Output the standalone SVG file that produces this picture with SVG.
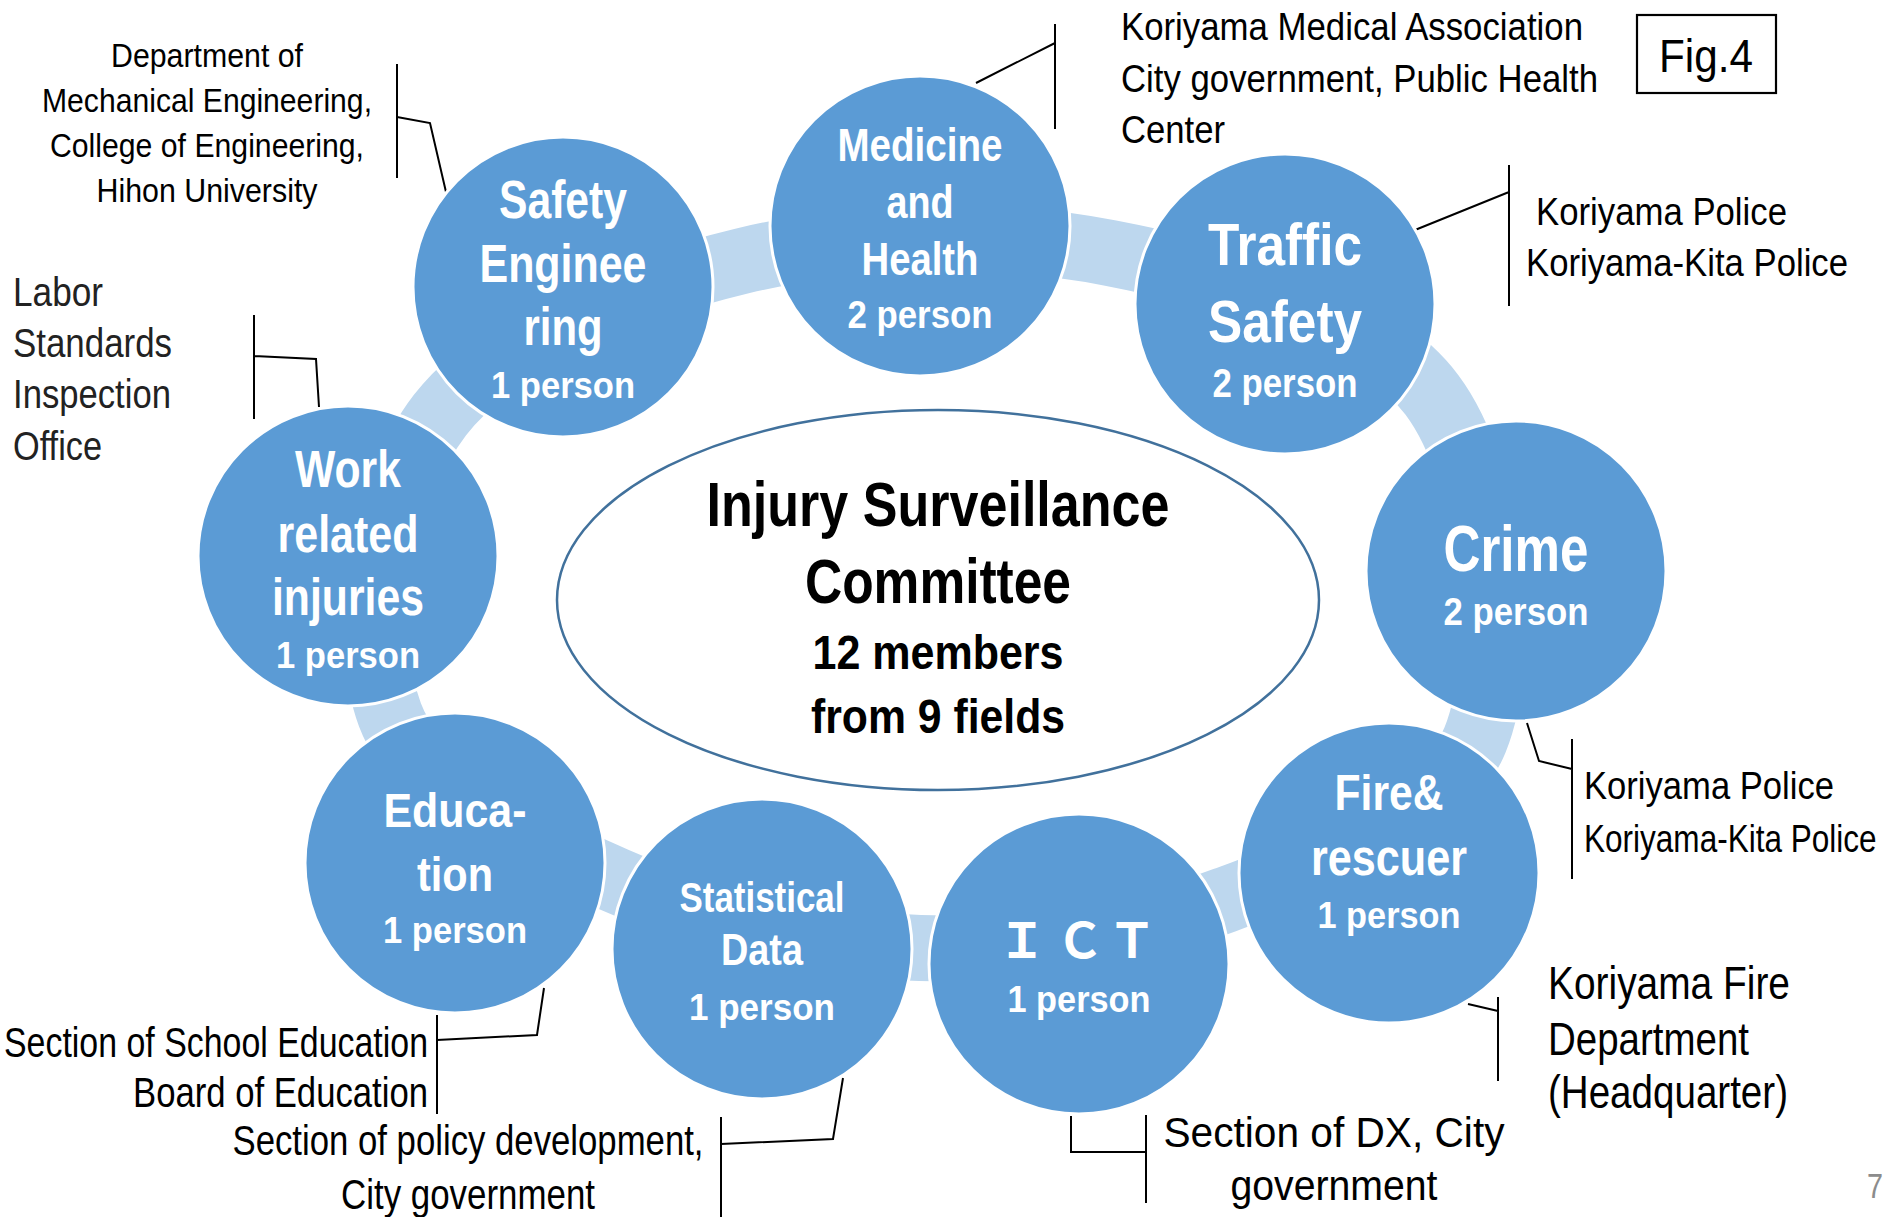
<svg xmlns="http://www.w3.org/2000/svg" width="1893" height="1217" viewBox="0 0 1893 1217">
<style>
.node circle{fill:#5B9BD5;stroke:#fff;stroke-width:3}
.ct{font-family:"Liberation Sans",Arial,sans-serif;font-weight:bold;fill:#fff;text-anchor:middle}
.cj{font-family:"Noto Sans CJK JP","Liberation Sans",sans-serif;font-weight:bold;fill:#fff;text-anchor:middle}
.cc{font-family:"Liberation Sans",Arial,sans-serif;font-weight:bold;fill:#000;text-anchor:middle}
.lbl{font-family:"Liberation Sans",Arial,sans-serif;fill:#000}
.dk{fill:#222}
.gr{fill:#8c8c8c}
.mid{text-anchor:middle}
.end{text-anchor:end}
.br{fill:none;stroke:#000;stroke-width:2}
.ring{fill:none;stroke:#BDD7EE;stroke-width:66}
</style>
<rect width="1893" height="1217" fill="#fff"/>
<g id="ring">
<path class="ring" d="M742 261 C853.7 234 995 230.7 1110 253 C1225 275.3 1371.2 313.8 1432 395 C1492.8 476.2 1509.5 655.8 1475 740 C1440.5 824.2 1317.5 865.3 1225 900 C1132.5 934.7 1021.7 951.3 920 948 C818.3 944.7 703.3 918.8 615 880 C526.7 841.2 419.2 792.5 390 715 C360.8 637.5 381.3 490.7 440 415 C498.7 339.3 630.3 288 742 261 Z"/>
</g>
<g id="committee">
<ellipse cx="938" cy="600" rx="381" ry="190" fill="#fff" stroke="#41719C" stroke-width="2.5"/>
<text class="cc" x="938" y="526" font-size="63" textLength="463" lengthAdjust="spacingAndGlyphs">Injury Surveillance</text>
<text class="cc" x="938" y="603" font-size="63" textLength="266" lengthAdjust="spacingAndGlyphs">Committee</text>
<text class="cc" x="938" y="669" font-size="49" textLength="251" lengthAdjust="spacingAndGlyphs">12 members</text>
<text class="cc" x="938" y="733" font-size="49" textLength="254" lengthAdjust="spacingAndGlyphs">from 9 fields</text>
</g>
<g id="connectors">
<path class="br" d="M397 64 V178 M397 117 L430 123 L446 192"/>
<path class="br" d="M254 315 V419 M254 356 L316 359 L319 407"/>
<path class="br" d="M1055 24 V129 M1055 43 L976 83"/>
<path class="br" d="M1509 165 V306 M1509 192 L1415 230"/>
<path class="br" d="M1572 739 V879 M1527 723 L1539 761 L1572 769"/>
<path class="br" d="M1498 997 V1081 M1468 1004 L1498 1011"/>
<path class="br" d="M1146 1115 V1203 M1071 1116 V1152 H1146"/>
<path class="br" d="M721 1117 V1217 M721 1144 L833 1139 L843 1078"/>
<path class="br" d="M437 1015 V1114 M437 1040 L537 1035 L544 988"/>
</g>
<g id="node-safety" class="node">
<circle cx="563" cy="287" r="150"/>
<text class="ct" x="563" y="218" font-size="53" textLength="128" lengthAdjust="spacingAndGlyphs">Safety</text>
<text class="ct" x="563" y="282" font-size="53" textLength="167" lengthAdjust="spacingAndGlyphs">Enginee</text>
<text class="ct" x="563" y="345" font-size="53" textLength="79" lengthAdjust="spacingAndGlyphs">ring</text>
<text class="ct" x="563" y="398" font-size="36" textLength="144" lengthAdjust="spacingAndGlyphs">1 person</text>
</g>
<g id="node-medicine" class="node">
<circle cx="920" cy="226" r="150"/>
<text class="ct" x="920" y="161" font-size="46" textLength="165" lengthAdjust="spacingAndGlyphs">Medicine</text>
<text class="ct" x="920" y="218" font-size="46" textLength="67" lengthAdjust="spacingAndGlyphs">and</text>
<text class="ct" x="920" y="275" font-size="46" textLength="117" lengthAdjust="spacingAndGlyphs">Health</text>
<text class="ct" x="920" y="328" font-size="39" textLength="145" lengthAdjust="spacingAndGlyphs">2 person</text>
</g>
<g id="node-traffic" class="node">
<circle cx="1285" cy="304" r="150"/>
<text class="ct" x="1285" y="265" font-size="60" textLength="154" lengthAdjust="spacingAndGlyphs">Traffic</text>
<text class="ct" x="1285" y="342" font-size="60" textLength="154" lengthAdjust="spacingAndGlyphs">Safety</text>
<text class="ct" x="1285" y="397" font-size="40" textLength="145" lengthAdjust="spacingAndGlyphs">2 person</text>
</g>
<g id="node-crime" class="node">
<circle cx="1516" cy="571" r="150"/>
<text class="ct" x="1516" y="571" font-size="64" textLength="145" lengthAdjust="spacingAndGlyphs">Crime</text>
<text class="ct" x="1516" y="625" font-size="39" textLength="145" lengthAdjust="spacingAndGlyphs">2 person</text>
</g>
<g id="node-fire" class="node">
<circle cx="1389" cy="873" r="150"/>
<text class="ct" x="1389" y="810" font-size="50" textLength="109" lengthAdjust="spacingAndGlyphs">Fire&amp;</text>
<text class="ct" x="1389" y="875" font-size="52" textLength="156" lengthAdjust="spacingAndGlyphs">rescuer</text>
<text class="ct" x="1389" y="928" font-size="37" textLength="143" lengthAdjust="spacingAndGlyphs">1 person</text>
</g>
<g id="node-ict" class="node">
<circle cx="1079" cy="964" r="150"/>
<text class="cj" x="1022 1080 1132" y="958" font-size="48">ＩＣＴ</text>
<text class="ct" x="1079" y="1012" font-size="36" textLength="143" lengthAdjust="spacingAndGlyphs">1 person</text>
</g>
<g id="node-statistical" class="node">
<circle cx="762" cy="949" r="150"/>
<text class="ct" x="762" y="912" font-size="42" textLength="165" lengthAdjust="spacingAndGlyphs">Statistical</text>
<text class="ct" x="762" y="965" font-size="44" textLength="82" lengthAdjust="spacingAndGlyphs">Data</text>
<text class="ct" x="762" y="1020" font-size="36" textLength="146" lengthAdjust="spacingAndGlyphs">1 person</text>
</g>
<g id="node-education" class="node">
<circle cx="455" cy="863" r="150"/>
<text class="ct" x="455" y="827" font-size="49" textLength="143" lengthAdjust="spacingAndGlyphs">Educa-</text>
<text class="ct" x="455" y="891" font-size="49" textLength="76" lengthAdjust="spacingAndGlyphs">tion</text>
<text class="ct" x="455" y="943" font-size="36" textLength="144" lengthAdjust="spacingAndGlyphs">1 person</text>
</g>
<g id="node-work" class="node">
<circle cx="348" cy="556" r="150"/>
<text class="ct" x="348" y="487" font-size="51" textLength="106" lengthAdjust="spacingAndGlyphs">Work</text>
<text class="ct" x="348" y="552" font-size="51" textLength="141" lengthAdjust="spacingAndGlyphs">related</text>
<text class="ct" x="348" y="615" font-size="51" textLength="152" lengthAdjust="spacingAndGlyphs">injuries</text>
<text class="ct" x="348" y="668" font-size="36" textLength="144" lengthAdjust="spacingAndGlyphs">1 person</text>
</g>
<g id="label-safety">
<text class="lbl mid" x="207" y="67" font-size="33" textLength="192" lengthAdjust="spacingAndGlyphs">Department of</text>
<text class="lbl mid" x="207" y="112" font-size="33" textLength="330" lengthAdjust="spacingAndGlyphs">Mechanical Engineering,</text>
<text class="lbl mid" x="207" y="157" font-size="33" textLength="314" lengthAdjust="spacingAndGlyphs">College of Engineering,</text>
<text class="lbl mid" x="207" y="202" font-size="33" textLength="221" lengthAdjust="spacingAndGlyphs">Hihon University</text>
</g>
<g id="label-work">
<text class="lbl dk" x="13" y="306" font-size="40" textLength="90" lengthAdjust="spacingAndGlyphs">Labor</text>
<text class="lbl dk" x="13" y="357" font-size="40" textLength="159" lengthAdjust="spacingAndGlyphs">Standards</text>
<text class="lbl dk" x="13" y="408" font-size="40" textLength="158" lengthAdjust="spacingAndGlyphs">Inspection</text>
<text class="lbl dk" x="13" y="460" font-size="40" textLength="89" lengthAdjust="spacingAndGlyphs">Office</text>
</g>
<g id="label-medicine">
<text class="lbl" x="1121" y="40" font-size="38" textLength="462" lengthAdjust="spacingAndGlyphs">Koriyama Medical Association</text>
<text class="lbl" x="1121" y="92" font-size="38" textLength="477" lengthAdjust="spacingAndGlyphs">City government, Public Health</text>
<text class="lbl" x="1121" y="143" font-size="38" textLength="104" lengthAdjust="spacingAndGlyphs">Center</text>
</g>
<g id="label-traffic">
<text class="lbl" x="1536" y="225" font-size="38" textLength="251" lengthAdjust="spacingAndGlyphs">Koriyama Police</text>
<text class="lbl" x="1526" y="276" font-size="38" textLength="322" lengthAdjust="spacingAndGlyphs">Koriyama-Kita Police</text>
</g>
<g id="label-crime">
<text class="lbl" x="1584" y="799" font-size="38" textLength="250" lengthAdjust="spacingAndGlyphs">Koriyama Police</text>
<text class="lbl" transform="translate(1584 852) scale(0.83 1)" x="0" y="0" font-size="38">Koriyama-Kita Police</text>
</g>
<g id="label-fire">
<text class="lbl" x="1548" y="999" font-size="47" textLength="242" lengthAdjust="spacingAndGlyphs">Koriyama Fire</text>
<text class="lbl" x="1548" y="1055" font-size="47" textLength="201" lengthAdjust="spacingAndGlyphs">Department</text>
<text class="lbl" x="1548" y="1108" font-size="47" textLength="240" lengthAdjust="spacingAndGlyphs">(Headquarter)</text>
</g>
<g id="label-ict">
<text class="lbl mid" x="1334" y="1147" font-size="42" textLength="341" lengthAdjust="spacingAndGlyphs">Section of DX, City</text>
<text class="lbl mid" x="1334" y="1200" font-size="42" textLength="207" lengthAdjust="spacingAndGlyphs">government</text>
</g>
<g id="label-statistical">
<text class="lbl mid" x="468" y="1155" font-size="42" textLength="471" lengthAdjust="spacingAndGlyphs">Section of policy development,</text>
<text class="lbl mid" x="468" y="1209" font-size="42" textLength="254" lengthAdjust="spacingAndGlyphs">City government</text>
</g>
<g id="label-education">
<text class="lbl end" x="428" y="1057" font-size="42" textLength="424" lengthAdjust="spacingAndGlyphs">Section of School Education</text>
<text class="lbl end" x="428" y="1107" font-size="42" textLength="295" lengthAdjust="spacingAndGlyphs">Board of Education</text>
</g>
<g id="fig-label">
<rect x="1637" y="15" width="139" height="78" fill="#fff" stroke="#000" stroke-width="2.2"/>
<text class="lbl" x="1659" y="72" font-size="47" textLength="94" lengthAdjust="spacingAndGlyphs">Fig.4</text>
</g>
<g id="page-number">
<text class="lbl gr" x="1867" y="1198" font-size="35" textLength="16" lengthAdjust="spacingAndGlyphs">7</text>
</g>
</svg>
